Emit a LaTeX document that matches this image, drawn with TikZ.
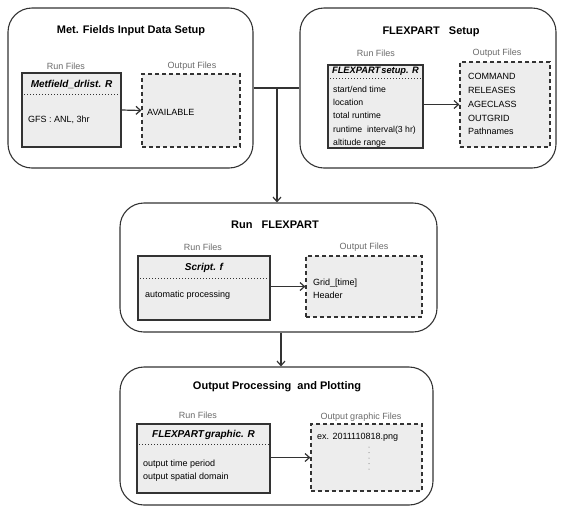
\documentclass[tikz,border=0pt]{standalone}
\usepackage{fontspec}
\setmainfont{Liberation Sans}
\usepackage{xcolor}
\usepackage{tikz}
\usetikzlibrary{arrows.meta}

\definecolor{edgegray}{HTML}{333333}
\definecolor{boxfill}{HTML}{EDEDED}
\definecolor{labelgray}{HTML}{6A6A6A}

\tikzset{
  panel/.style={draw=edgegray, line width=1.1pt, rounded corners=24pt, inner sep=0pt},
  runbox/.style={draw=edgegray, line width=1.1pt, fill=boxfill, inner sep=0pt},
  outbox/.style={draw=edgegray, line width=1.2pt, dash pattern=on 4pt off 3pt, fill=boxfill, inner sep=0pt},
  paneltitle/.style={font=\fontsize{11}{13}\selectfont\bfseries, inner sep=0pt},
  filetitle/.style={font=\fontsize{10}{12}\selectfont\bfseries\itshape, inner sep=0pt},
  filelabel/.style={font=\fontsize{9}{10}\selectfont, text=labelgray, inner sep=0pt},
  itemlist/.style={font=\fontsize{9}{13.3}\selectfont, align=left, anchor=west, inner sep=0pt},
  sepline/.style={dotted, line width=1pt, draw=edgegray},
  flow/.style={draw=edgegray, line width=1.2pt, -{Straight Barb[length=4.5pt,width=8pt,line width=1.2pt]}}
}

\begin{document}
\begin{tikzpicture}[x=1pt, y=-1pt]
  \useasboundingbox (0,0) rectangle (564,507);

  % Panels
  \node[panel, minimum width=245pt, minimum height=160pt] (met) at (130.5,88) {};
  \node[panel, minimum width=256pt, minimum height=160pt] (setup) at (428,88) {};
  \node[panel, minimum width=317pt, minimum height=129pt] (runflex) at (278.5,267.5) {};
  \node[panel, minimum width=313pt, minimum height=138pt] (plot) at (276.5,436) {};

  \node[paneltitle] (mettitle) at (131,31) {Met. Fields Input Data Setup};
  \node[paneltitle] (setuptitle) at (431,32) {FLEXPART~~ Setup};
  \node[paneltitle] (runtitle) at (275,225) {Run~~ FLEXPART};
  \node[paneltitle] (plottitle) at (277,387) {Output Processing~ and Plotting};

  % Met. fields
  \node[filelabel] (metrunlbl) at (66,66) {Run Files};
  \node[filelabel] (metoutlbl) at (192,66) {Output Files};
  \node[runbox, minimum width=99pt, minimum height=74pt] (run1) at (71.5,110) {};
  \node[outbox, minimum width=98pt, minimum height=73pt] (out1) at (191,110.5) {};
  \draw[sepline] (run1.west |- 0,94) -- (run1.east |- 0,94);
  \node[filetitle] (run1name) at (71.5,84) {Metfield\_drlist. R};
  \node[itemlist] (run1items) at (28,120) {GFS : ANL, 3hr};
  \node[itemlist] (out1items) at (147,112) {AVAILABLE};
  \draw[flow] (run1.east) -- (out1.west);

  % FLEXPART setup
  \node[filelabel] (setrunlbl) at (376,53) {Run Files};
  \node[filelabel] (setoutlbl) at (497,53) {Output Files};
  \node[runbox, minimum width=95pt, minimum height=83pt] (run2) at (375.5,106.5) {};
  \node[outbox, minimum width=90pt, minimum height=85pt] (out2) at (505,104.5) {};
  \draw[sepline] (run2.west |- 0,78) -- (run2.east |- 0,78);
  \node[filetitle, font=\fontsize{9.3}{11}\selectfont\bfseries\itshape] (run2name) at (375.5,71) {FLEXPART\kern1pt setup. R};
  \node[itemlist, font=\fontsize{8.7}{13.3}\selectfont] (run2items) at (333,116.5) {start/end time\\location\\total runtime\\runtime~ interval(3 hr)\\altitude range};
  \node[itemlist, font=\fontsize{9}{13.9}\selectfont] (out2items) at (468,104) {COMMAND\\RELEASES\\AGECLASS\\OUTGRID\\Pathnames};
  \draw[flow] (run2.east |- out2.west) -- (out2.west);

  % Run FLEXPART
  \node[filelabel] (runrunlbl) at (203,247) {Run Files};
  \node[filelabel] (runoutlbl) at (364,247) {Output Files};
  \node[runbox, minimum width=132pt, minimum height=64pt] (run3) at (204,288) {};
  \node[outbox, minimum width=116pt, minimum height=61pt] (out3) at (364,286.5) {};
  \draw[sepline] (run3.west |- 0,278) -- (run3.east |- 0,278);
  \node[filetitle] (run3name) at (204,268) {Script. f};
  \node[itemlist] (run3items) at (145,295) {automatic processing};
  \node[itemlist, font=\fontsize{9}{13}\selectfont] (out3items) at (313,288.5) {Grid\_[time]\\Header};
  \draw[flow] (run3.east |- out3.west) -- (out3.west);

  % Output processing
  \node[filelabel] (plotrunlbl) at (198,415) {Run Files};
  \node[filelabel] (plotoutlbl) at (361,417) {Output graphic Files};
  \node[runbox, minimum width=133pt, minimum height=69pt] (run4) at (203.5,458.5) {};
  \node[outbox, minimum width=111pt, minimum height=67pt] (out4) at (366.5,457.5) {};
  \draw[sepline] (run4.west |- 0,444) -- (run4.east |- 0,444);
  \node[filetitle] (run4name) at (203.5,435) {FLEXPART\kern1pt graphic. R};
  \node[itemlist, font=\fontsize{9}{13}\selectfont] (run4items) at (143,470.5) {output time period\\output spatial domain};
  \node[itemlist] (out4items) at (317,437) {ex. 2011110818.png};
  \foreach \k in {0,...,4}
    \fill[labelgray] (369,447+\k*5.5) circle (0.5);
  \draw[flow] (run4.east |- out4.west) -- (out4.west);

  % Panel links
  \coordinate (jn) at (277,88);
  \draw[draw=edgegray, line width=1.1pt] (met.east) -- (setup.west);
  \draw[flow] (jn) -- (jn |- runflex.north);
  \draw[flow] (runflex.south -| 281,0) -- (plot.north -| 281,0);
\end{tikzpicture}
\end{document}
